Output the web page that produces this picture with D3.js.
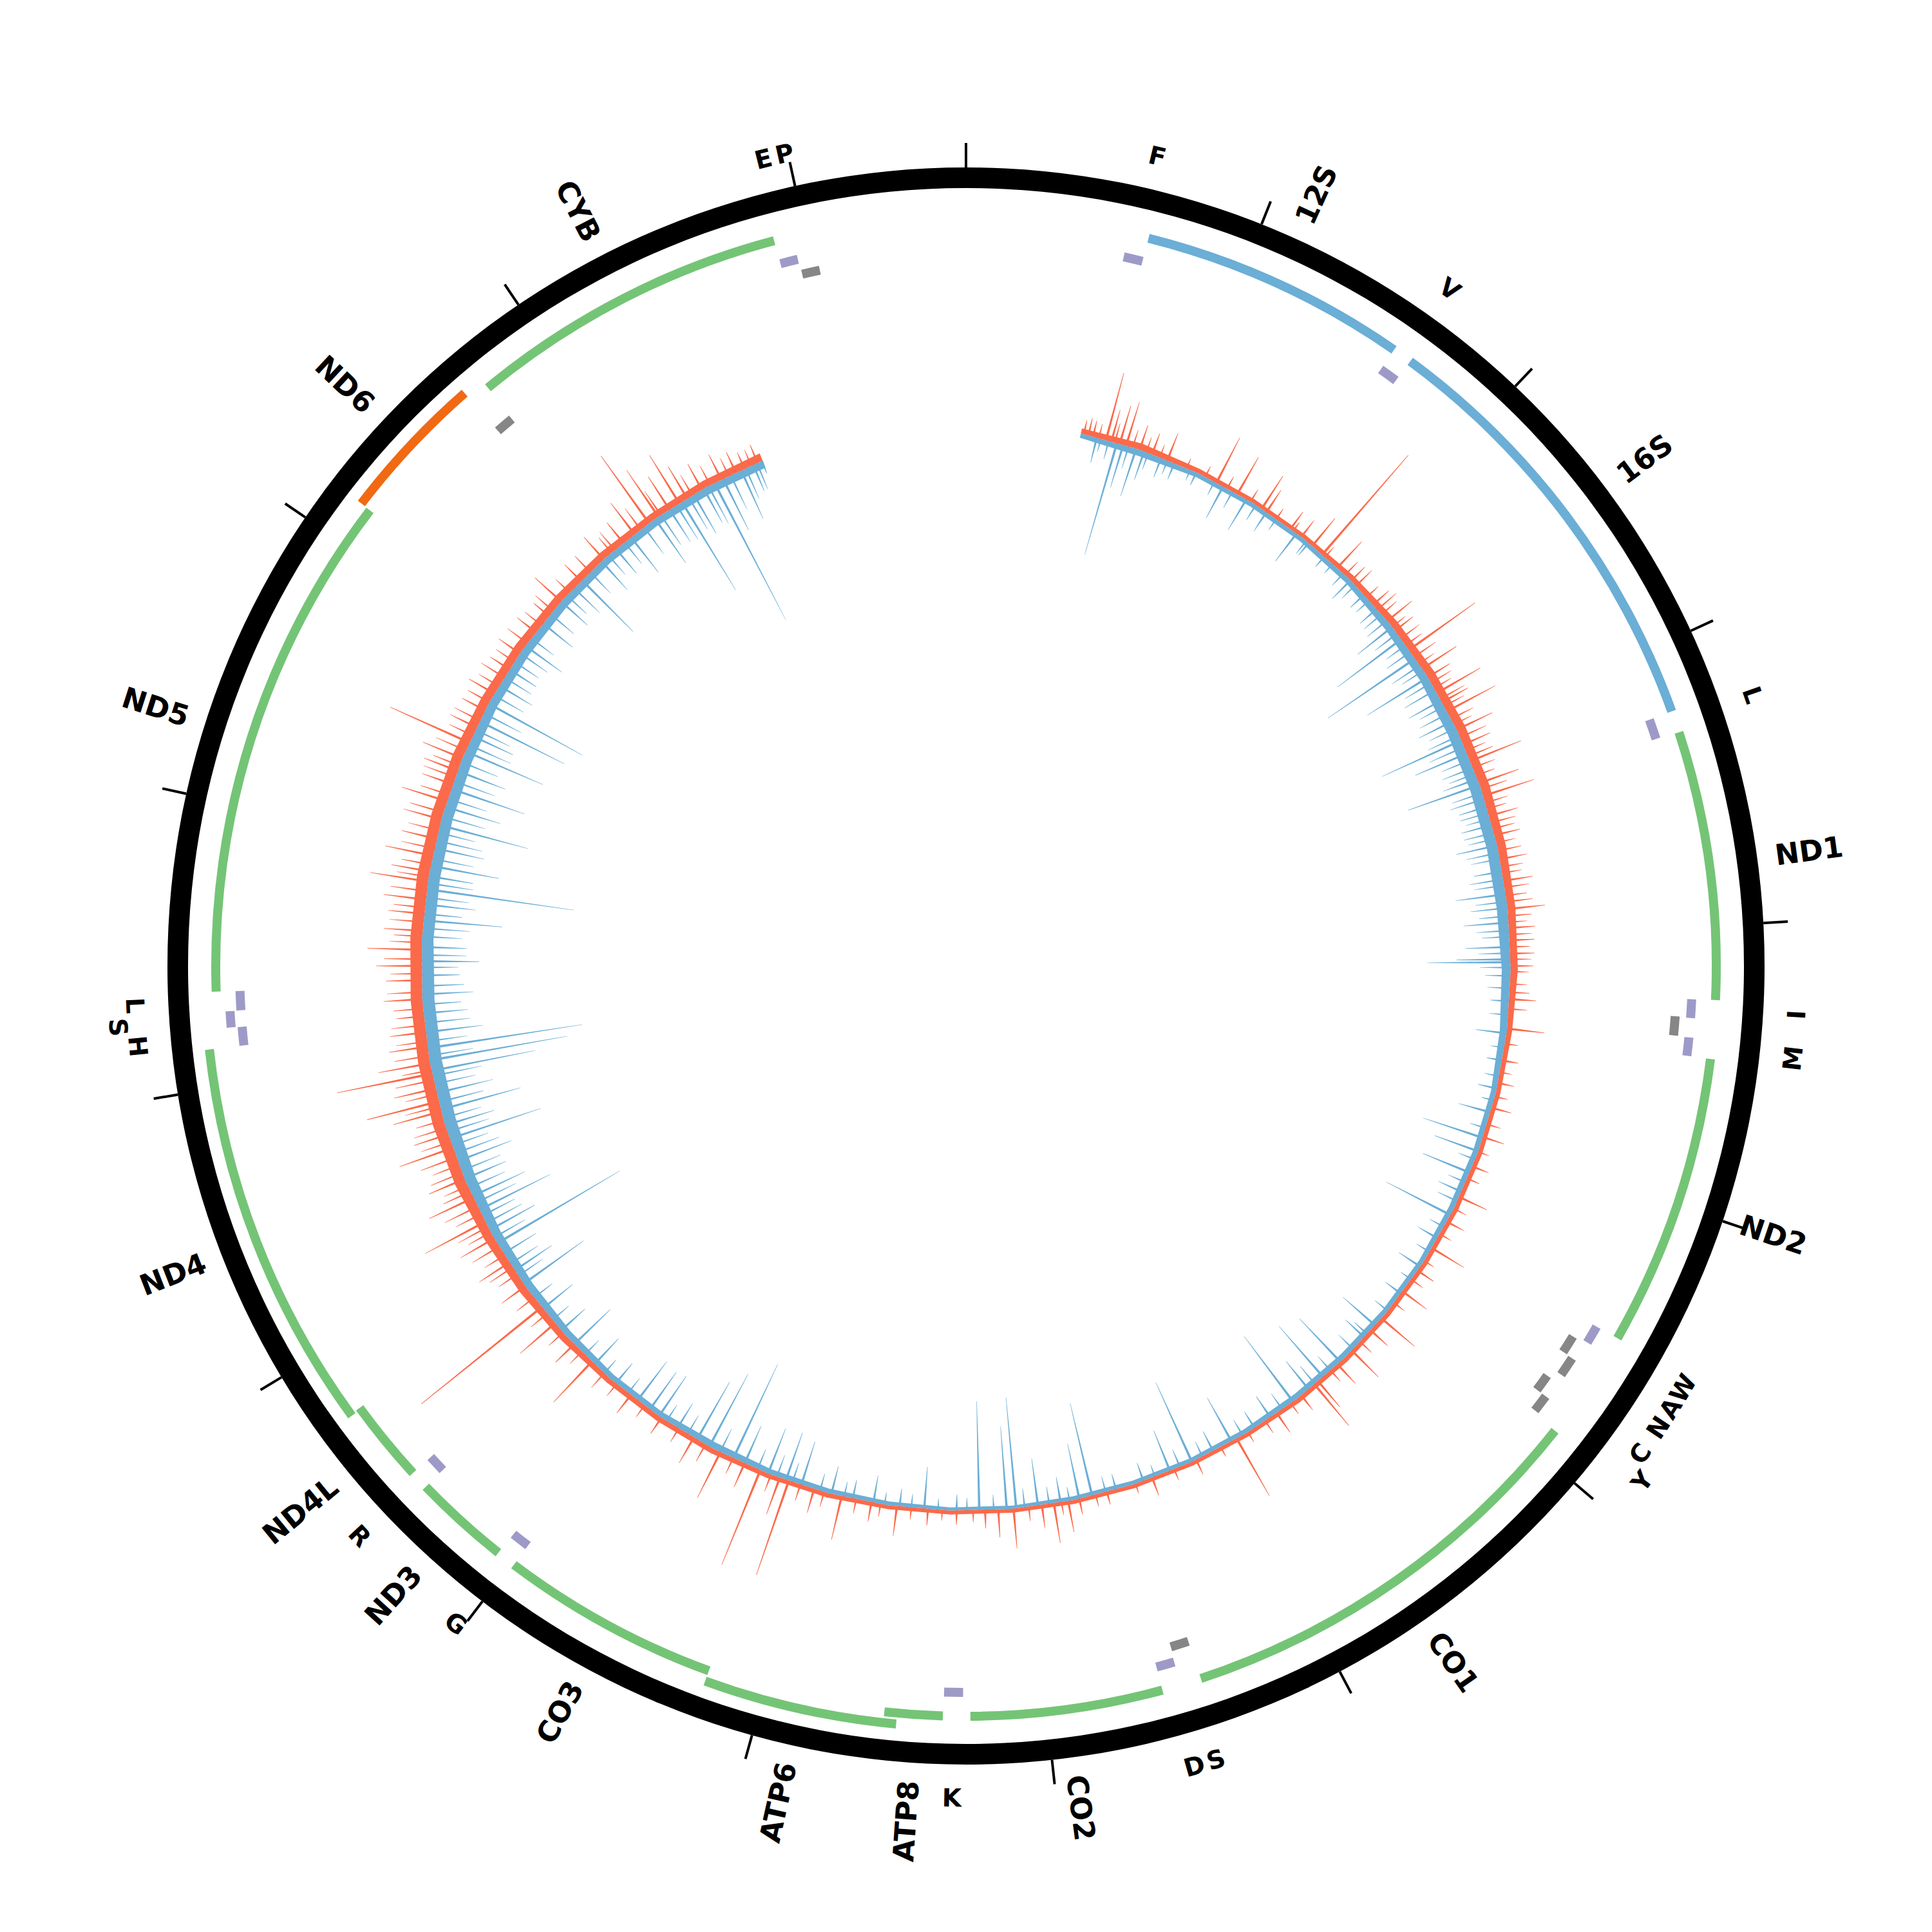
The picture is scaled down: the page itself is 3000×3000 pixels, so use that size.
<!DOCTYPE html>
<html><head><meta charset="utf-8">
<script src="https://cdn.jsdelivr.net/npm/d3@7"></script>
<style>
body{margin:0;background:#fff}
text{font-family:"DejaVu Sans",sans-serif;font-weight:bold;fill:#000}
</style>
</head><body>
<svg id="chart" width="3000" height="3000"></svg>
<script>
// ---------------- DATA ----------------
const genomeLength = 16569;
const tickPositions = [0,1000,2000,3000,4000,5000,6000,7000,8000,9000,10000,11000,12000,13000,14000,15000,16000];

const geneNames  = ["12S","16S","ND1","ND2","CO1","CO2","ATP8","ATP6","CO3","ND3","ND4L","ND4","ND5","ND6","CYB"];
const geneStarts = [648,1671,3307,4470,5904,7586,8366,8527,9207,10059,10470,10760,12337,14149,14747];
const geneEnds   = [1601,3229,4262,5511,7445,8269,8572,9207,9990,10404,10766,12137,14148,14673,15887];
const geneKinds  = ["rRNA","rRNA","CDS","CDS","CDS","CDS","CDS","CDS","CDS","CDS","CDS","CDS","CDS","CDS-","CDS"];

const trnaNames  = ["F","V","L1","I","Q","M","W","A","N","C","Y","S1","D","K","G","R","H","S2","L2","E","T","P"];
const trnaStarts = [577,1602,3230,4263,4329,4402,5512,5587,5657,5761,5826,7446,7518,8295,9991,10405,12138,12207,12266,14674,15888,15956];
const trnaEnds   = [647,1670,3304,4331,4400,4469,5579,5655,5729,5826,5891,7514,7585,8364,10058,10469,12206,12265,12336,14742,15953,16023];
const trnaStrand = ["+","+","+","+","-","+","+","-","-","-","-","-","+","+","+","+","+","+","+","-","+","-"];
// label shown for each tRNA in the picture ("" = not labelled)
const trnaLabels = ["F","V","L","I","","M","W","A","N","C","Y","S","D","K","G","R","H","S","L","","E","P"];

// coverage track: base level per bin
const binPositions = [560,860,1160,1460,1760,2060,2360,2660,2960,3260,3560,3860,4160,4460,4760,5060,5360,5660,5960,6260,6560,6860,7160,7460,7760,8060,8360,8660,8960,9260,9560,9860,10160,10460,10760,11060,11360,11660,11960,12260,12560,12860,13160,13460,13760,14060,14360,14660,14960,15260,15560];
const redBase  = [8,10,7,6,6,8,11,13,14,14,13,12,11,8,7,7,7,7,7,7,7,6,6,6,6,6,6,6,7,7,8,8,8,10,12,14,17,18,18,18,18,18,17,16,14,13,12,11,10,11,12];
const blueBase = [7,10,7,7,7,8,11,13,16,17,17,17,14,11,8,8,8,7,7,8,8,7,6,6,6,5,5,6,7,8,10,8,8,10,12,14,17,19,19,19,18,18,17,16,14,13,12,11,11,12,12];

// large isolated peaks [bp, value]
const redPeaks = [[598,27],[621,25],[575,22],[686,107],[713,50],[755,61],[787,70],[856,40],[920,34],[999,44],[1261,78],[1376,65],[1514,60],[1542,40],[1684,32],[1749,32],[1818,55],[1882,203],[1979,55],[2071,30],[2228,32],[2333,49],[2393,35],[2508,125],[2619,63],[2669,40],[2757,77],[2808,45],[2858,84],[2959,61],[3038,45],[3125,84],[3240,65],[3305,82],[3406,45],[3503,40],[3622,43],[3728,45],[3866,58],[3958,40],[4018,38],[4082,37],[4142,35],[4303,41],[4446,58],[4602,25],[4713,26],[4837,31],[4985,34],[5136,27],[5297,47],[5431,30],[5578,58],[5707,30],[5831,46],[5997,67],[6075,35],[6209,58],[6305,40],[6430,52],[6453,83],[6536,29],[6683,36],[6913,102],[7134,25],[7364,29],[7594,20],[7732,25],[7787,49],[7857,62],[7916,35],[8054,62],[8128,43],[8192,28],[8330,22],[8469,25],[8620,46],[8745,30],[8892,69],[9030,38],[9159,154],[9205,60],[9306,158],[9389,40],[9518,79],[9665,45],[9849,30],[10033,35],[10282,86],[10402,40],[10540,71],[10641,239],[10770,45],[10908,55],[11046,60],[11138,105],[11267,75],[11368,60],[11529,87],[11598,55],[11714,77],[11764,114],[11828,65],[11902,150],[11953,81],[12035,60],[12105,55],[12183,42],[12266,60],[12358,55],[12427,70],[12505,84],[12597,60],[12680,55],[12749,65],[12837,90],[12887,60],[12965,75],[13048,55],[13145,61],[13237,73],[13324,50],[13393,55],[13458,66],[13541,134],[13623,45],[13715,40],[13808,45],[13946,35],[14038,40],[14167,36],[14268,30],[14360,55],[14498,35],[14650,46],[14774,40],[14843,60],[14931,128],[14986,87],[15050,60],[15106,87],[15151,57],[15234,45],[15340,43],[15418,35],[15464,27],[15533,30]];

const bluePeaks = [[640,41],[741,181],[773,70],[838,78],[879,47],[967,33],[1036,28],[1151,22],[1298,57],[1427,56],[1542,36],[1721,55],[1795,25],[1896,22],[2067,40],[2163,30],[2255,35],[2370,69],[2444,124],[2559,165],[2669,111],[2798,58],[2913,59],[3015,136],[3084,88],[3217,57],[3249,118],[3360,45],[3452,50],[3553,65],[3682,45],[3793,79],[3931,71],[4050,70],[4110,84],[4124,130],[4313,30],[4469,48],[4602,25],[4741,30],[4860,52],[4989,98],[5058,72],[5169,79],[5270,40],[5394,112],[5523,35],[5684,40],[5845,30],[6043,67],[6121,40],[6287,92],[6398,105],[6490,56],[6586,127],[6720,40],[6812,30],[6941,78],[7042,35],[7157,135],[7272,68],[7410,30],[7548,25],[7668,148],[7732,87],[7824,40],[7935,74],[8041,173],[8087,129],[8220,170],[8330,25],[8487,66],[8607,28],[8735,43],[8837,30],[8943,44],[9095,71],[9173,78],[9265,75],[9389,64],[9449,162],[9578,128],[9647,103],[9757,45],[9863,75],[9918,71],[9992,76],[10126,40],[10264,55],[10402,78],[10494,50],[10632,60],[10784,115],[10862,70],[11018,221],[11092,80],[11202,124],[11276,90],[11368,70],[11460,90],[11575,150],[11644,80],[11723,129],[11806,90],[11916,164],[11967,217],[12027,243],[12105,90],[12197,70],[12289,80],[12381,60],[12450,90],[12519,70],[12648,123],[12726,80],[12800,231],[12864,70],[12915,108],[13002,80],[13117,142],[13209,90],[13301,121],[13393,80],[13495,131],[13577,70],[13656,148],[13752,166],[13853,60],[13946,50],[14084,70],[14222,60],[14360,55],[14504,113],[14636,60],[14728,50],[14820,70],[14967,84],[15050,60],[15120,161],[15188,70],[15244,60],[15303,240],[15349,90],[15446,83],[15510,45],[15556,21]];

// dense small hairs [bp, value]
const redHairs = [[650,22],[730,30],[820,28],[890,24],[960,20],[1100,16],[1200,18],[1320,20],[1450,22],[1600,18],[1700,16],[1900,20],
[2030,28],[2105,34],[2180,24],[2260,38],[2290,30],[2370,26],[2440,36],[2480,30],[2550,40],[2590,28],[2700,36],[2730,30],[2790,42],[2830,34],[2900,38],[2930,30],[3000,44],[3070,32],[3100,40],[3160,36],[3200,30],[3270,42],[3340,36],[3370,30],[3440,38],[3470,34],[3540,30],[3580,36],[3660,34],[3690,30],[3760,38],[3800,32],[3830,40],[3900,36],[3930,28],[3990,34],[4050,30],[4110,32],[4170,28],[4230,26],[4270,30],[4350,28],
[4520,20],[4660,18],[4780,20],[4920,22],[5060,18],[5200,20],[5360,22],[5500,20],[5650,18],[5760,22],[5900,20],[6150,24],[6350,22],[6600,20],[6750,22],[6850,18],[7000,16],[7250,18],[7450,16],[7650,18],[7820,20],[7980,22],[8250,18],[8400,16],[8550,18],[8700,20],[8820,22],[8980,24],[9100,26],[9250,28],[9450,26],[9600,30],[9750,24],[9950,22],[10120,24],[10200,30],[10350,26],[10480,30],[10600,32],[10700,34],
[10840,34],[10880,42],[10950,36],[11000,48],[11080,40],[11110,52],[11180,44],[11220,56],[11300,46],[11330,40],[11400,52],[11440,44],[11480,58],[11560,48],[11630,52],[11670,44],[11740,56],[11800,50],[11870,60],[11920,46],[11990,54],[12060,48],[12140,52],[12220,46],[12300,54],[12390,48],[12460,58],[12540,50],[12570,44],[12640,52],[12710,48],[12790,56],[12860,50],[12920,46],[13000,52],[13090,48],[13180,54],[13270,46],[13360,52],[13420,44],[13500,50],[13580,40],[13660,44],[13760,38],[13850,36],[13900,42],[13990,34],[14100,38],[14210,32],[14300,36],[14420,30],[14560,34],[14700,30],[14720,36],[14880,40],[15000,44],[15180,36],[15280,34],[15380,30],[15500,26]];

const blueHairs = [[660,22],[700,30],[800,36],[900,28],[1000,24],[1120,18],[1250,24],[1350,30],[1480,28],[1600,22],[1780,26],[1950,20],
[2020,26],[2100,30],[2200,28],[2290,36],[2330,40],[2410,44],[2480,38],[2520,46],[2600,52],[2630,40],[2700,48],[2740,56],[2830,44],[2870,50],[2950,46],[2990,54],[3050,60],[3120,48],[3160,52],[3190,44],[3290,50],[3320,56],[3390,46],[3420,40],[3490,48],[3520,44],[3590,52],[3620,46],[3720,54],[3750,48],[3830,50],[3860,58],[3900,46],[3970,52],[4000,44],[4080,50],[4150,48],[4190,40],[4250,36],[4380,30],
[4540,22],[4680,24],[4800,20],[4940,26],[5100,28],[5220,30],[5320,34],[5460,26],[5600,24],[5760,20],[5950,26],[6100,28],[6200,32],[6350,30],[6450,36],[6650,30],[6880,28],[7100,26],[7220,30],[7350,20],[7600,26],[7780,22],[7880,28],[8000,30],[8150,24],[8280,20],[8420,18],[8550,22],[8680,20],[8880,24],[9000,28],[9140,32],[9220,36],[9320,34],[9520,40],[9700,34],[9820,30],[10050,30],[10200,28],[10330,32],[10560,34],[10700,36],
[10830,46],[10900,52],[10960,60],[11050,56],[11130,64],[11170,58],[11240,70],[11320,62],[11410,66],[11500,74],[11540,60],[11610,68],[11680,62],[11760,72],[11850,66],[11890,78],[11990,70],[12060,64],[12150,72],[12240,60],[12330,66],[12420,58],[12480,70],[12570,62],[12610,74],[12680,60],[12760,68],[12830,72],[12950,66],[13040,74],[13080,60],[13160,70],[13250,64],[13340,68],[13440,62],[13530,72],[13610,60],[13700,66],[13800,54],[13900,50],[13990,46],[14040,52],[14130,44],[14280,48],[14400,42],[14450,56],[14560,46],[14680,40],[14780,44],[14900,52],[15000,56],[15090,64],[15160,58],[15270,66],[15390,60],[15470,52],[15530,44]];

// ---------------- STYLE / LAYOUT ----------------
const W = 3000, H = 3000, cx = 1500, cy = 1500;
const ringInner = 1208, ringOuter = 1240, tickOuter = 1278;
const bandHalf = 7;
const geneRowR = [1165, 1182];
const trnaPlusRowR = [1128, 1145];
const trnaMinusRowR = [1104, 1121];
const baseR = 846;
const colors = {CDS:"#74c476", "CDS-":"#f16913", rRNA:"#6baed6", tplus:"#9e9ac8", tminus:"#868686", red:"#fb6a4a", blue:"#6baed6"};

const svg = d3.select("#chart");
svg.append("rect").attr("width",W).attr("height",H).attr("fill","#fff");
const g = svg.append("g").attr("transform",`translate(${cx},${cy})`);

const ang = d3.scaleLinear().domain([0, genomeLength]).range([0, 2*Math.PI]);
const deg = bp => ang(bp) * 180 / Math.PI;
const redR = d3.scaleLinear().domain([0,100]).range([baseR, baseR+100]);
const blueR = d3.scaleLinear().domain([0,100]).range([baseR, baseR-100]);

function assignRows(starts, ends, pad){
  const rowEnds = [];
  return starts.map((s,i)=>{
    let r = rowEnds.findIndex(e => s > e + pad);
    if (r < 0){ r = rowEnds.length; rowEnds.push(ends[i]); } else rowEnds[r] = ends[i];
    return r;
  });
}

// ---- coverage track ----
const redData = binPositions.map((p,i)=>({bp:p, v:redBase[i]}));
const blueData = binPositions.map((p,i)=>({bp:p, v:blueBase[i]}));
const redArea = d3.areaRadial().angle(d=>ang(d.bp)).innerRadius(baseR).outerRadius(d=>redR(d.v));
const blueArea = d3.areaRadial().angle(d=>ang(d.bp)).outerRadius(baseR).innerRadius(d=>blueR(d.v));

function spike(p, w, tw){ return [{bp:p[0]-w, v:0},{bp:p[0]-tw, v:p[1]},{bp:p[0]+tw, v:p[1]},{bp:p[0]+w, v:0}]; }

function drawSeries(area, base, hairs, peaks, color){
  const layer = g.append("g").attr("fill", color);
  layer.append("path").datum(base).attr("d", area);
  layer.append("g").selectAll("path").data(hairs).join("path").attr("d", p => area(spike(p, 5, 0.9)));
  layer.append("g").selectAll("path").data(peaks).join("path").attr("d", p => area(spike(p, 6, 1.1)));
}
drawSeries(blueArea, blueData, blueHairs, bluePeaks, colors.blue);
drawSeries(redArea, redData, redHairs, redPeaks, colors.red);

// ---- outer ring & ticks ----
g.append("path").attr("d", d3.arc()({innerRadius:ringInner, outerRadius:ringOuter, startAngle:0, endAngle:2*Math.PI})).attr("fill","#000");
g.append("g").selectAll("line").data(tickPositions).join("line")
  .attr("x1", d=>ringOuter*Math.sin(ang(d)) ).attr("y1", d=>-ringOuter*Math.cos(ang(d)))
  .attr("x2", d=>tickOuter*Math.sin(ang(d)) ).attr("y2", d=>-tickOuter*Math.cos(ang(d)))
  .attr("stroke","#000").attr("stroke-width",4);

// ---- gene bands ----
const arc = d3.arc();
const geneRows = assignRows(geneStarts, geneEnds, 10);
g.append("g").selectAll("path").data(geneNames).join("path")
  .attr("d",(d,i)=>arc({innerRadius:geneRowR[geneRows[i]]-bandHalf, outerRadius:geneRowR[geneRows[i]]+bandHalf, startAngle:ang(geneStarts[i]), endAngle:ang(geneEnds[i])}))
  .attr("fill",(d,i)=>colors[geneKinds[i]]);

// tRNAs, rows per strand
const idxPlus = trnaNames.map((d,i)=>i).filter(i=>trnaStrand[i]==="+");
const idxMinus = trnaNames.map((d,i)=>i).filter(i=>trnaStrand[i]==="-");
const trnaRow = new Array(trnaNames.length);
[idxPlus, idxMinus].forEach(ids=>{
  const rows = assignRows(ids.map(i=>trnaStarts[i]), ids.map(i=>trnaEnds[i]), 10);
  ids.forEach((id,k)=>trnaRow[id]=rows[k]);
});
g.append("g").selectAll("path").data(trnaNames).join("path")
  .attr("d",(d,i)=>{
    const R = (trnaStrand[i]==="+" ? trnaPlusRowR : trnaMinusRowR)[trnaRow[i]];
    return arc({innerRadius:R-bandHalf, outerRadius:R+bandHalf, startAngle:ang(trnaStarts[i]), endAngle:ang(trnaEnds[i])});
  })
  .attr("fill",(d,i)=>trnaStrand[i]==="+" ? colors.tplus : colors.tminus);

// ---- labels ----
const geneLabelR = 1268;
g.append("g").selectAll("text").data(geneNames).join("text")
  .each(function(d,i){
    const a = deg((geneStarts[i]+geneEnds[i])/2);
    const rad = a*Math.PI/180;
    const x = geneLabelR*Math.sin(rad), y = -geneLabelR*Math.cos(rad);
    const right = a < 180;
    d3.select(this)
      .attr("transform",`translate(${x},${y}) rotate(${right ? a-90 : a+90})`)
      .attr("text-anchor", right ? "start" : "end")
      .attr("dominant-baseline","central")
      .attr("font-size",45)
      .text(d);
  });

// tRNA labels: one per tRNA, bumped outward when too close to the previous one
const trnaLabelR = 1292, trnaBump = 28, minGap = 33;
const labelItems = [];
let lastBaseAngle = -1e9;
trnaLabels.forEach((t,i)=>{
  if (!t) return;
  const a = ang((trnaStarts[i]+trnaEnds[i])/2);
  const gap = (a - lastBaseAngle) * trnaLabelR;
  let r = trnaLabelR;
  if (gap < minGap) r = trnaLabelR + trnaBump; else lastBaseAngle = a;
  labelItems.push({t, a, r});
});
g.append("g").selectAll("text").data(labelItems).join("text")
  .attr("transform", d=>{
    const a = d.a*180/Math.PI;
    const top = (a <= 90 || a >= 270);
    return `translate(${d.r*Math.sin(d.a)},${-d.r*Math.cos(d.a)}) rotate(${top ? a : a-180})`;
  })
  .attr("text-anchor","middle")
  .attr("dominant-baseline","central")
  .attr("font-size",39)
  .text(d=>d.t);
</script>
</body></html>
